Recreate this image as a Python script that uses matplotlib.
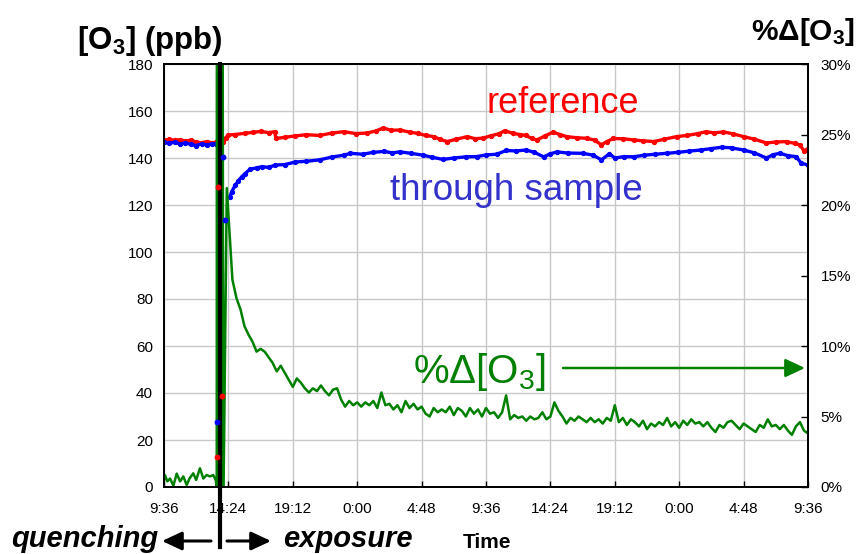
import numpy as np
import matplotlib
matplotlib.use("Agg")
import matplotlib.pyplot as plt
from matplotlib import transforms

plt.rcParams['font.family'] = ['Liberation Sans', 'DejaVu Sans']
plt.rcParams['mathtext.default'] = 'regular'

# time axis: hours after 9:36 on day 1
x_ticks = [0, 4.8, 9.6, 14.4, 19.2, 24.0, 28.8, 33.6, 38.4, 43.2, 48.0]
x_labels = ['9:36', '14:24', '19:12', '0:00', '4:48', '9:36',
            '14:24', '19:12', '0:00', '4:48', '9:36']
left_ticks = [0, 20, 40, 60, 80, 100, 120, 140, 160, 180]
right_ticks = [0, 5, 10, 15, 20, 25, 30]
switch_time = 4.17

# reference [O3] (ppb)
ref_q_h = [0.0, 0.4, 0.8, 1.2, 1.6, 2.0, 2.4, 2.8, 3.2, 3.6, 3.9]
ref_q = [147.6, 147.9, 147.5, 147.8, 147.2, 147.6, 146.8, 146.5, 147.0, 146.4, 146.7]
ref_iso_h = [3.95, 4.02, 4.36]
ref_iso = [12.6, 127.5, 38.7]
ref_e_h = [4.42, 4.6, 4.8, 5.3, 6.0, 6.6, 7.2, 7.8, 8.25, 8.35, 9.0, 9.8, 10.6, 11.6,
           12.5, 13.4, 14.3, 15.1, 15.8, 16.35, 16.9, 17.6, 18.3, 18.9, 19.5, 20.1,
           20.6, 21.1, 21.8, 22.6, 23.2, 23.8, 24.4, 25.0, 25.4, 26.0, 26.5, 27.0,
           27.4, 27.8, 28.4, 29.0, 29.5, 30.0, 30.8, 31.5, 32.1, 32.6, 33.0, 33.5,
           34.2, 35.0, 35.7, 36.5, 37.3, 38.2, 39.0, 39.8, 40.4, 41.0, 41.7, 42.4,
           43.2, 44.0, 44.9, 45.6, 46.4, 47.0, 47.4, 47.7, 48.0]
ref_e = [146.9, 148.6, 149.8, 150.0, 150.5, 150.9, 151.3, 150.8, 151.2, 148.3, 148.8,
         149.4, 149.9, 149.6, 150.6, 151.2, 150.4, 150.6, 151.5, 152.8, 151.8, 151.9,
         151.0, 150.5, 149.6, 149.1, 147.9, 147.0, 148.0, 149.1, 148.2, 148.5, 149.5,
         150.4, 151.6, 150.5, 150.0, 149.6, 148.3, 147.7, 149.4, 151.0, 150.0, 149.1,
         148.6, 148.4, 147.6, 145.6, 147.0, 148.3, 148.2, 147.7, 147.3, 147.0, 148.0,
         149.1, 149.6, 150.4, 151.2, 150.7, 151.1, 150.3, 149.1, 148.0, 146.4, 146.8,
         147.0, 146.2, 145.6, 143.0, 144.0]

# through sample [O3] (ppb)
smp_q_h = [0.0, 0.4, 0.8, 1.2, 1.6, 2.0, 2.4, 2.8, 3.2, 3.6, 3.9]
smp_q = [146.6, 146.3, 146.7, 146.0, 146.4, 145.8, 145.3, 146.0, 145.6, 146.0, 145.8]
smp_iso_h = [3.97, 4.42, 4.57]
smp_iso = [27.5, 140.5, 113.5]
smp_e_h = [4.9, 5.05, 5.3, 5.55, 5.8, 6.05, 6.4, 6.9, 7.3, 7.8, 8.3, 9.0, 9.8, 10.6,
           11.6, 12.5, 13.4, 13.9, 14.8, 15.6, 16.4, 17.0, 17.6, 18.4, 19.3, 20.0,
           20.8, 21.6, 22.5, 23.3, 24.0, 24.8, 25.5, 26.2, 27.0, 27.6, 28.3, 28.8,
           29.3, 30.1, 31.2, 32.0, 32.6, 33.2, 33.6, 34.3, 35.0, 35.8, 36.6, 37.5,
           38.3, 39.1, 40.0, 40.8, 41.6, 42.3, 43.2, 44.0, 44.9, 45.4, 45.9, 46.5,
           47.1, 47.5, 48.0]
smp_e = [123.3, 125.7, 128.3, 130.4, 132.0, 133.4, 135.2, 135.8, 136.3, 136.0, 137.0,
         137.2, 138.3, 138.6, 139.2, 140.4, 141.2, 142.0, 141.6, 142.4, 142.8, 142.2,
         142.6, 142.0, 141.2, 140.3, 139.4, 140.0, 140.5, 140.6, 141.3, 141.6, 143.2,
         143.0, 143.4, 142.4, 140.5, 141.8, 142.6, 142.1, 142.0, 141.2, 139.2, 141.8,
         140.0, 140.6, 140.5, 141.2, 141.6, 142.0, 142.4, 142.9, 143.4, 144.0, 144.6,
         144.3, 143.4, 142.2, 140.0, 141.4, 142.0, 141.0, 140.6, 137.8, 137.0]

# %delta[O3]
pct_q_h = [0.0, 0.07, 0.25, 0.45, 0.7, 0.95, 1.2, 1.44, 1.69, 1.9, 2.18, 2.4, 2.68,
           2.93, 3.18, 3.43, 3.67, 3.85, 3.93, 4.02, 4.42, 4.68]
pct_q = [0.5, 0.85, 0.4, 0.6, 0.1, 0.95, 0.4, 0.75, 0.14, 0.6, 0.97, 0.5, 1.33,
         0.6, 0.85, 0.75, 0.85, 0.5, 0.0, 300.0, -2.0, 21.2]
pct_e = [14.7, 13.4, 12.6, 11.4, 10.8, 10.3, 9.6, 9.8, 9.6, 9.2, 8.8, 8.2, 8.6, 8.1,
         7.6, 7.1, 7.7, 7.4, 7.0, 6.7, 7.0, 6.8, 7.2, 6.8, 6.5, 6.9, 7.0, 6.2, 5.7,
         6.1, 5.8, 6.0, 5.7, 6.0, 5.8, 6.1, 5.6, 6.7, 5.8, 5.9, 5.5, 5.8, 5.3, 6.1,
         5.6, 5.9, 5.5, 5.7, 5.2, 5.0, 5.6, 5.3, 5.5, 5.3, 5.7, 5.1, 5.6, 5.4, 5.0,
         5.6, 5.2, 5.5, 5.0, 5.6, 5.2, 5.3, 4.9, 5.3, 6.5, 4.8, 5.1, 4.9, 5.0, 4.7,
         5.0, 4.8, 4.9, 5.3, 4.8, 5.0, 6.0, 5.4, 5.0, 4.5, 4.9, 4.7, 5.0, 4.8, 4.6,
         4.9, 4.6, 4.8, 4.5, 4.9, 4.7, 5.8, 4.6, 4.9, 4.4, 4.8, 4.6, 4.3, 4.7, 4.1,
         4.5, 4.3, 4.6, 4.4, 4.9, 4.3, 4.6, 4.2, 4.7, 4.4, 4.8, 4.5, 4.6, 4.3, 4.6,
         4.2, 3.9, 4.4, 4.2, 4.6, 4.7, 4.4, 4.1, 4.5, 4.3, 4.1, 3.9, 4.4, 4.2, 4.8,
         4.3, 4.4, 4.1, 4.4, 4.0, 3.7, 4.3, 4.6, 4.0, 3.8]
pct_e_h = np.linspace(5.1, 48.0, len(pct_e))

RED = '#ff0000'
BLUE = '#0000ff'
GREEN = '#008000'

fig = plt.figure(figsize=(8.58, 5.54), dpi=100)
ax = fig.add_axes([164 / 858, 67 / 554, 644 / 858, 423 / 554])
ax2 = ax.twinx()

ax.grid(True, color='#c8c8c8', linewidth=1.0)
ax.set_axisbelow(True)

for h, v, c in [(ref_q_h, ref_q, RED), (ref_e_h, ref_e, RED),
                (smp_q_h, smp_q, BLUE), (smp_e_h, smp_e, BLUE)]:
    ax.plot(h, v, color=c, linewidth=2.4, marker='o', markersize=2.8, zorder=3)

ax2.plot(list(pct_q_h) + list(pct_e_h), list(pct_q) + list(pct_e),
         color=GREEN, linewidth=1.8)

ax.set_xlim(0, 48)
ax.set_ylim(0, 180)
ax2.set_ylim(0, 30)
ax.set_xticks(x_ticks)
ax.set_xticklabels(x_labels)
ax.set_yticks(left_ticks)
ax2.set_yticks(right_ticks)
ax2.set_yticklabels(['%d%%' % t for t in right_ticks])

ax.tick_params(axis='x', direction='in', length=4, width=1, pad=11, labelsize=11)
ax.tick_params(axis='y', direction='in', length=0, pad=8, labelsize=11)
ax2.tick_params(axis='y', direction='in', length=5, width=1, pad=9, labelsize=11)
for a in (ax, ax2):
    for s in a.spines.values():
        s.set_linewidth(1.3)
        s.set_color('black')

# black separator between quenching and exposure
trans = transforms.blended_transform_factory(ax.transData, ax.transAxes)
ax2.plot([switch_time, switch_time], [1.0, -0.142], color='black', linewidth=3.0,
         transform=trans, clip_on=False, zorder=5)
# stray points around the switch, drawn over the separator
ax2.plot(ref_iso_h, np.array(ref_iso) / 6, 'o', color=RED, markersize=3.2, zorder=6)
ax2.plot(smp_iso_h, np.array(smp_iso) / 6, 'o', color=BLUE, markersize=3.2, zorder=6)

def ftext(x, y, s, **kw):
    fig.text(x / 858, 1 - y / 554, s, **kw)

ftext(77, 49, '[O$_3$] (ppb)', fontsize=22.5, fontweight='bold', va='baseline')
ftext(855, 40, '%Δ[O$_3$]', fontsize=21.5, fontweight='bold', va='baseline', ha='right')
ftext(563, 113, 'reference', fontsize=26, color=RED, ha='center', va='baseline')
ftext(516, 200, 'through sample', fontsize=26.5, color='#3333cc', ha='center',
      va='baseline')
ftext(413, 383, '%Δ[O$_3$]', fontsize=29, color=GREEN, va='baseline')
ftext(11, 547, 'quenching', fontsize=21, fontweight='bold', style='italic',
      va='baseline')
ftext(283, 547, 'exposure', fontsize=21, fontweight='bold', style='italic',
      va='baseline')
ftext(487, 548, 'Time', fontsize=15, fontweight='bold', ha='center', va='baseline')

def farrow(x0, y0, x1, y1, color, lw):
    fig.add_artist(plt.matplotlib.patches.FancyArrowPatch(
        (x0 / 858, 1 - y0 / 554), (x1 / 858, 1 - y1 / 554),
        transform=fig.transFigure, arrowstyle='-|>,head_length=0.6,head_width=0.28',
        mutation_scale=20, color=color, linewidth=lw, shrinkA=0, shrinkB=0))

farrow(211, 541, 162, 541, 'black', 2.2)
farrow(227, 541, 271, 541, 'black', 2.2)
farrow(563, 368, 805, 368, GREEN, 1.8)

fig.savefig('out.png', dpi=100)
